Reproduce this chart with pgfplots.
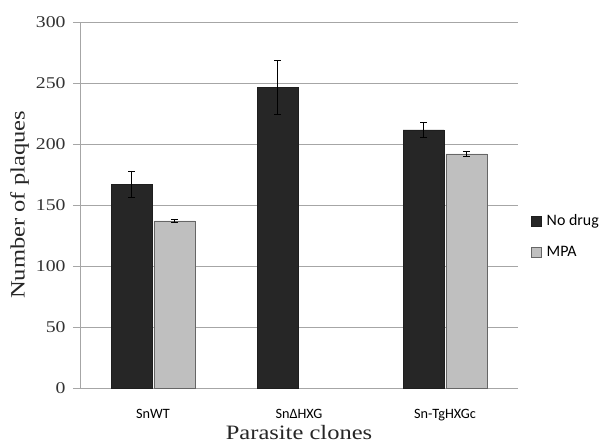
\documentclass[border=0pt]{standalone}
\usepackage{pgfplots}
\pgfplotsset{compat=1.18}
\usepackage{fontspec}
\setmainfont{Liberation Serif}[FakeStretch=1.2]
\newfontfamily\carl{Carlito}
\usetikzlibrary{calc}
\definecolor{dark}{HTML}{262626}
\definecolor{light}{HTML}{BFBFBF}
\definecolor{gridc}{HTML}{A6A6A6}
\begin{document}
\begin{tikzpicture}
\begin{axis}[
  scale only axis, width=438bp, height=366bp,
  ymin=0, ymax=300, ytick={0,50,...,300},
  xmin=-0.5, xmax=2.5,
  xtick={0,1,2}, xticklabels={SnWT, SnΔHXG, Sn-TgHXGc},
  xticklabel style={font=\carl\fontsize{14.3}{16}\selectfont, yshift=-11bp},
  yticklabel style={font=\color{black!80}\fontsize{16.5}{18}\selectfont, xshift=-4bp},
  /pgf/number format/assume math mode=true,
  axis x line*=bottom, axis y line*=left,
  x axis line style={gridc, thick, -}, y axis line style={gridc, thick, -},
  ymajorgrids, grid style={gridc, thick},
  major x tick style={draw=none},
  major y tick style={gridc, thick}, tick align=outside, major tick length=7bp,
  ylabel={Number of plaques}, xlabel={Parasite clones},
  label style={font=\color{black!85}\fontsize{20.5}{22}\selectfont},
  ylabel style={yshift=0bp},
  xlabel style={yshift=2.5bp},
  ybar, bar width=0.28, bar shift auto,
  legend style={draw=none, at={(1.03,0.415)}, anchor=west, font=\carl\fontsize{16}{18}\selectfont, row sep=15bp, inner sep=0pt, nodes={inner xsep=5bp}},
  legend cell align=left,
  legend image code/.code={\draw[#1] (0bp,-5bp) rectangle (10bp,5bp);},
  error bars/y dir=both, error bars/y explicit,
  error bars/error bar style={black, thin},
  error bars/error mark options={rotate=90, mark size=3.5bp, black, thin},
]
\addplot[fill=dark, draw=dark!80!black] coordinates {(0,167) +- (0,11) (1,246.5) +- (0,22) (2,211.5) +- (0,6)};
\addplot[fill=light, draw=black!60] coordinates {(0,137) +- (0,1.5) (2,192) +- (0,2)};
\legend{No drug, MPA}
\coordinate (bl) at (rel axis cs:0,0);
\coordinate (tr) at (rel axis cs:1,1);
\end{axis}
\pgfresetboundingbox
\path[use as bounding box] ($(bl)+(-80bp,-60bp)$) rectangle ($(tr)+(88bp,22bp)$);
\end{tikzpicture}
\end{document}
